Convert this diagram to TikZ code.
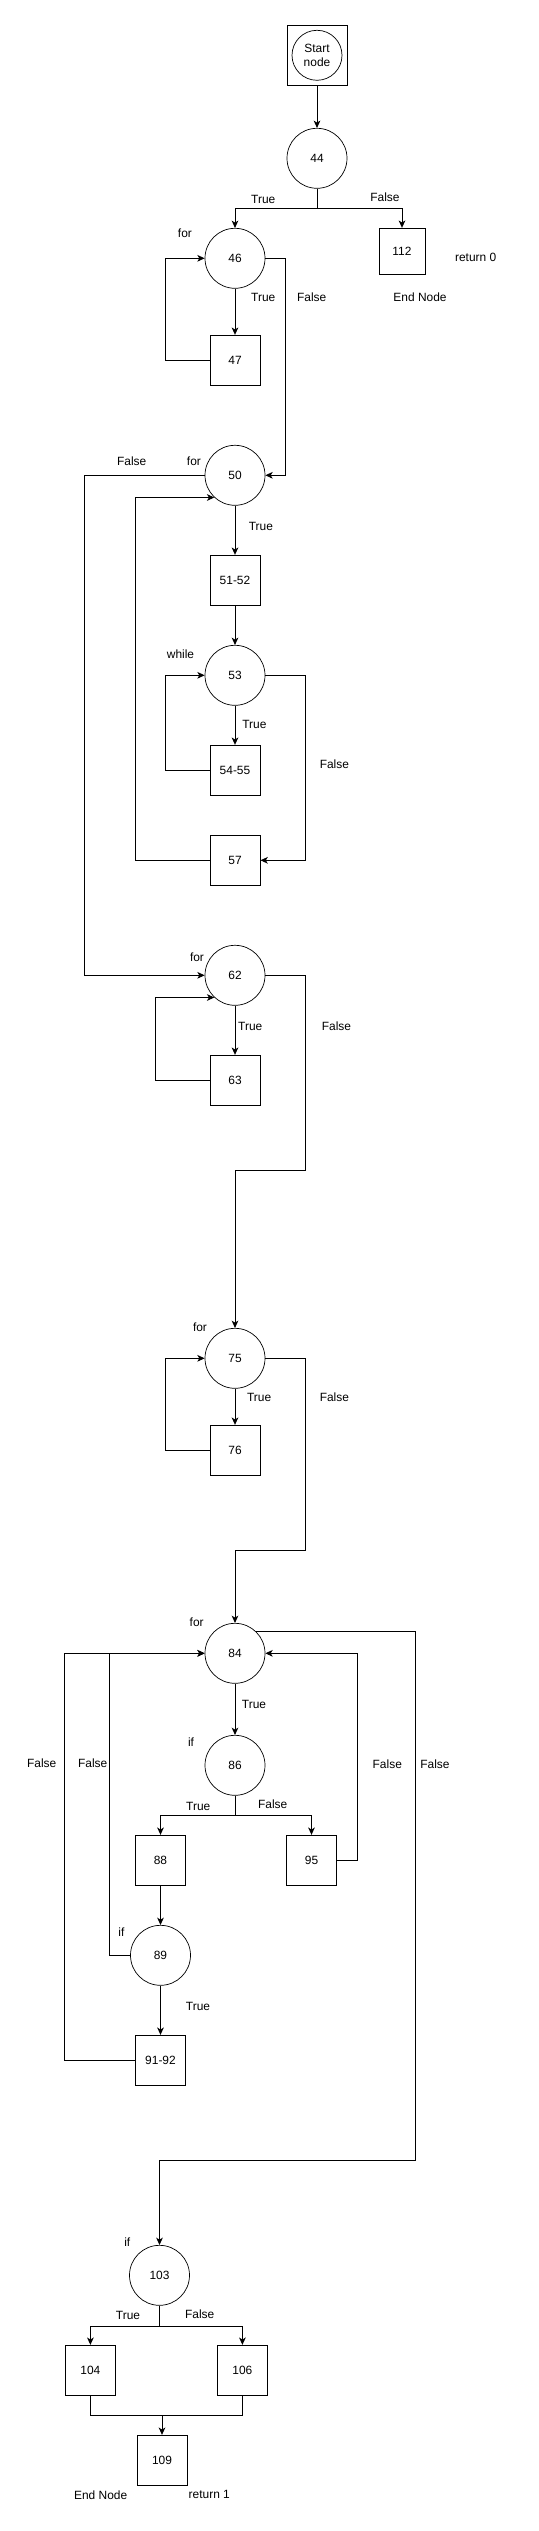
\documentclass[tikz,border=0pt]{standalone}
\usepackage{fontspec}
\setmainfont{Liberation Sans}
\usetikzlibrary{arrows.meta}

\begin{document}
\begin{tikzpicture}[x=0.03cm, y=-0.03cm, line width=0.8pt,
    every node/.style={font=\fontsize{10.2}{12.4}\selectfont, inner sep=0pt},
    cnode/.style={draw, circle, line width=0.6pt, minimum size=1.8cm},
    bnode/.style={draw, rectangle, minimum width=1.5cm, minimum height=1.5cm},
    arr/.style={-{Stealth[length=0.22cm, width=0.2cm, inset=0.06cm]}}]
      \useasboundingbox (0,0) rectangle (539,2531);

      \node[draw, minimum width=1.8cm, minimum height=1.8cm] (start) at (317,55.3) {};
      \node[cnode, minimum size=1.5cm, align=center] (startc) at (317,55.3) {Start\\node};
      \node[cnode] (c44) at (317,158.3) {44};
      \node[cnode] (c46) at (235,258.3) {46};
      \node[bnode, minimum width=1.38cm, minimum height=1.38cm] (b112) at (402,251.3) {112};
      \node[bnode] (b47) at (235,360.3) {47};
      \node[cnode] (c50) at (235,475.3) {50};
      \node[bnode] (b5152) at (235,580.3) {51-52};
      \node[cnode] (c53) at (235,675.3) {53};
      \node[bnode] (b5455) at (235,770.3) {54-55};
      \node[bnode] (b57) at (235,860.3) {57};
      \node[cnode] (c62) at (235,975.3) {62};
      \node[bnode] (b63) at (235,1080.3) {63};
      \node[cnode] (c75) at (235,1358.3) {75};
      \node[bnode] (b76) at (235,1450.3) {76};
      \node[cnode] (c84) at (235,1653.3) {84};
      \node[cnode] (c86) at (235,1765.3) {86};
      \node[bnode] (b88) at (160.5,1860.3) {88};
      \node[bnode] (b95) at (311.5,1860.3) {95};
      \node[cnode] (c89) at (160.5,1955.3) {89};
      \node[bnode] (b9192) at (160.5,2060.3) {91-92};
      \node[cnode] (c103) at (159.5,2275.3) {103};
      \node[bnode] (b104) at (90.4,2370.3) {104};
      \node[bnode] (b106) at (242.4,2370.3) {106};
      \node[bnode] (b109) at (162,2460.3) {109};

      \coordinate (j62) at (235,1170.3);
      \coordinate (j75) at (235,1550.3);
      \coordinate (j84) at (159.5,2160.3);
      \coordinate (j109) at (162,2415);

      \draw[arr] (start) -- (c44);
      \draw[arr] (c44.south) -- ++(0,20) -| (c46.north);
      \draw[arr] (c44.south) -- ++(0,20) -| (b112.north);
      \draw[arr] (c46) -- (b47);
      \draw[arr] (b47.west) -- ++(-44.4,0) |- (c46.west);
      \draw[arr] (c46.east) -- ++(20.3,0) |- (c50.east);
      \draw[arr] (c50) -- (b5152);
      \draw[arr] (c50.west) -- ++(-119.7,0) |- (c62.west);
      \draw[arr] (b5152) -- (c53);
      \draw[arr] (c53) -- (b5455);
      \draw[arr] (b5455.west) -- ++(-44.4,0) |- (c53.west);
      \draw[arr] (c53.east) -- ++(40.3,0) |- (b57.east);
      \draw[arr] (b57.west) -- ++(-74.2,0) |- (c50.227);
      \draw[arr] (c62) -- (b63);
      \draw[arr] (b63.west) -- ++(-54.3,0) |- (c62.227);
      \draw[arr] (c62.east) -- ++(40.3,0) |- (j62) -- (c75.north);
      \draw[arr] (c75) -- (b76);
      \draw[arr] (b76.west) -- ++(-44.4,0) |- (c75.west);
      \draw[arr] (c75.east) -- ++(40.3,0) |- (j75) -- (c84.north);
      \draw[arr] (c84) -- (c86);
      \draw[arr] (c84.45) -- ++(159.1,0) |- (j84) -- (c103.north);
      \draw[arr] (c86.south) -- ++(0,20) -| (b88.north);
      \draw[arr] (c86.south) -- ++(0,20) -| (b95.north);
      \draw[arr] (b95.east) -- ++(20.2,0) |- (c84.east);
      \draw[arr] (b88) -- (c89);
      \draw[arr] (c89) -- (b9192);
      \draw[arr] (c89.west) -- ++(-20.5,0) |- (c84.west);
      \draw[arr] (b9192.west) -- ++(-70.2,0) |- (c84.west);
      \draw[arr] (c103.south) -- ++(0,20.3) -| (b104.north);
      \draw[arr] (c103.south) -- ++(0,20.3) -| (b106.north);
      \draw (b104.south) -- ++(0,19.7) -| (b106.south);
      \draw[arr] (j109) -- (b109.north);

      \node (t44) at (263.3,199) {True};
      \node (f44) at (385,197.7) {False};
      \node (for46) at (184.9,233.7) {for};
      \node (ret0) at (475.7,257.7) {return 0};
      \node (end112) at (420,297.7) {End Node};
      \node (t46) at (263.3,297.7) {True};
      \node (f46) at (311.7,297.7) {False};
      \node (f50) at (131.7,461.7) {False};
      \node (for50) at (193.9,461.7) {for};
      \node (t50) at (260.9,526.7) {True};
      \node (while53) at (180.5,654.3) {while};
      \node (t53) at (254.4,724.7) {True};
      \node (f53) at (334.4,764.7) {False};
      \node (for62) at (197,957.7) {for};
      \node (t62) at (250.3,1026.7) {True};
      \node (f62) at (336.5,1026.7) {False};
      \node (for75) at (200,1327.7) {for};
      \node (t75) at (259.2,1397.7) {True};
      \node (f75) at (334.4,1397.7) {False};
      \node (for84) at (196.7,1622.7) {for};
      \node (t84) at (254,1704.7) {True};
      \node (if86) at (191,1741.7) {if};
      \node (f9192) at (41.7,1763.3) {False};
      \node (f89) at (92.7,1763.3) {False};
      \node (f95) at (387.3,1764.3) {False};
      \node (f84) at (435,1764.3) {False};
      \node (t86) at (198.3,1806.7) {True};
      \node (f86) at (272.7,1804) {False};
      \node (if89) at (121.4,1931.7) {if};
      \node (t89) at (198,2006.7) {True};
      \node (if103) at (127.3,2241.7) {if};
      \node (t103) at (128,2315.7) {True};
      \node (f103) at (199.7,2314.3) {False};
      \node (end109) at (100.7,2494.7) {End Node};
      \node (ret1) at (209.3,2494.7) {return 1};
    \end{tikzpicture}
\end{document}
